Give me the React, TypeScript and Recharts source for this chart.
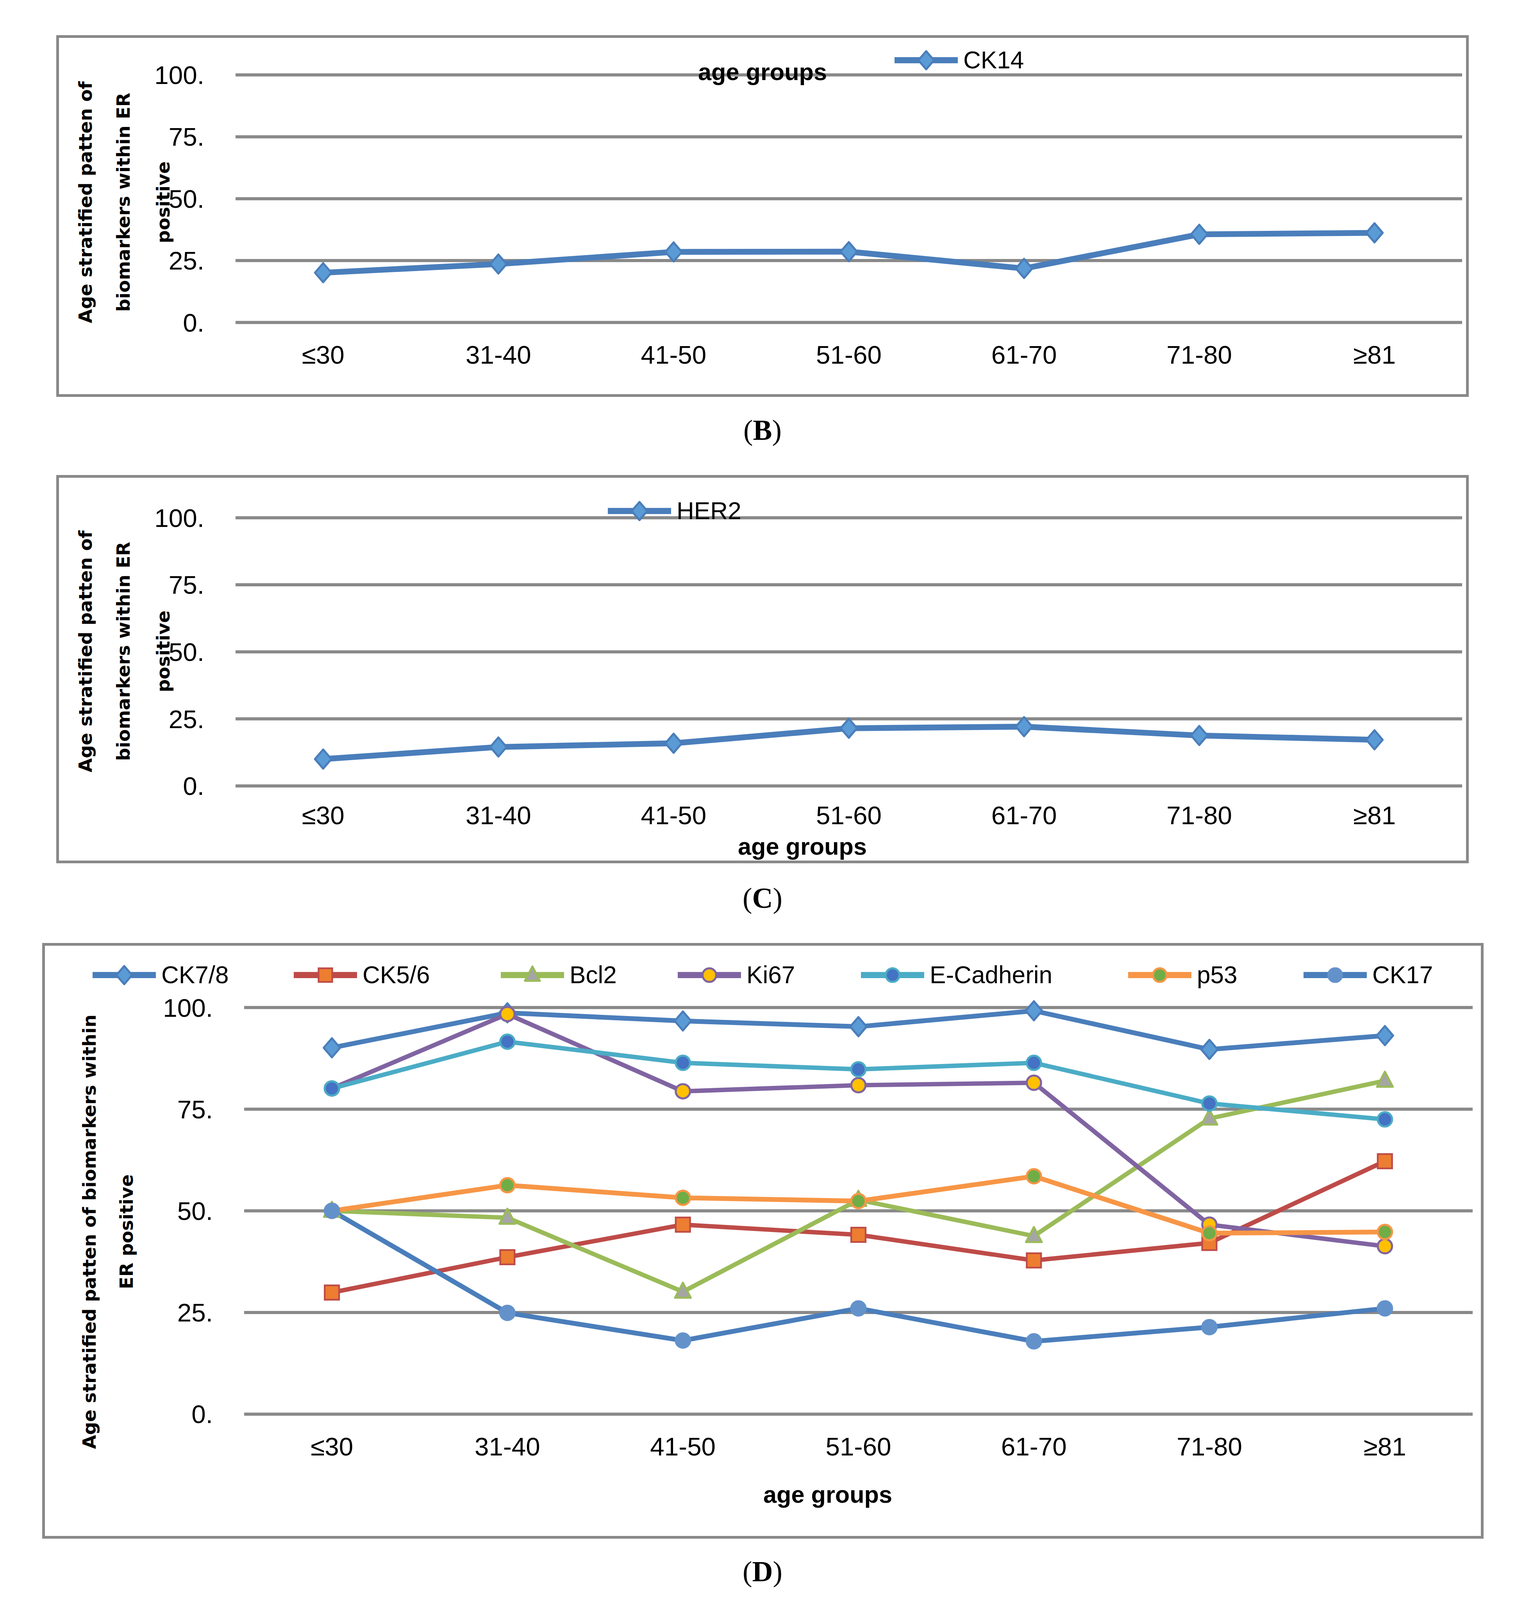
import React from 'react';
import { LineChart, Line, XAxis, YAxis, CartesianGrid, Legend, Label } from 'recharts';

const categories = ['≤30', '31-40', '41-50', '51-60', '61-70', '71-80', '≥81'];
const yTicks = [0, 25, 50, 75, 100];

const ck14 = [20.1, 23.6, 28.5, 28.6, 21.8, 35.6, 36.2];
const her2 = [10.0, 14.5, 15.9, 21.5, 22.1, 18.8, 17.2];

const ck78 = [90.1, 98.7, 96.7, 95.3, 99.2, 89.7, 93.1];
const ck56 = [29.9, 38.6, 46.6, 44.1, 37.8, 42.1, 62.2];
const bcl2 = [50.0, 48.3, 30.1, 52.7, 43.8, 72.7, 82.0];
const ki67 = [80.1, 98.4, 79.4, 80.9, 81.5, 46.6, 41.3];
const ecad = [80.1, 91.6, 86.4, 84.8, 86.4, 76.4, 72.5];
const p53 = [50.0, 56.3, 53.2, 52.4, 58.5, 44.5, 44.8];
const ck17 = [50.0, 24.9, 18.1, 26.0, 17.9, 21.4, 26.0];

const FONT = "'Liberation Sans', Arial, sans-serif";
const TITLE_FONT = "'DejaVu Sans', Verdana, sans-serif";
const GRID = '#898989';

// Fit the 5352px-tall figure into whatever viewport height we actually get.
const VH = typeof window !== 'undefined' && window.innerHeight ? window.innerHeight : 5352;
const SY = Math.min(1, VH / 5352);
const F = Math.sqrt(SY);

type MarkerKind = 'diamond' | 'square' | 'triangle' | 'circle';
interface SeriesDef {
  key: string;
  name: string;
  values: number[];
  color: string;
  marker: MarkerKind;
  mfill: string;
  mstroke: string;
  width: number;
}

const blue = '#4A7EBB';

const seriesB: SeriesDef[] = [
  { key: 'ck14', name: 'CK14', values: ck14, color: blue, marker: 'diamond', mfill: '#5B9BD5', mstroke: blue, width: 17 },
];
const seriesC: SeriesDef[] = [
  { key: 'her2', name: 'HER2', values: her2, color: blue, marker: 'diamond', mfill: '#5B9BD5', mstroke: blue, width: 17 },
];
const seriesD: SeriesDef[] = [
  { key: 'ck78', name: 'CK7/8', values: ck78, color: blue, marker: 'diamond', mfill: '#5B9BD5', mstroke: blue, width: 14 },
  { key: 'ck56', name: 'CK5/6', values: ck56, color: '#BE4B48', marker: 'square', mfill: '#ED7D31', mstroke: '#BE4B48', width: 13 },
  { key: 'bcl2', name: 'Bcl2', values: bcl2, color: '#9BBB59', marker: 'triangle', mfill: '#A5A5A5', mstroke: '#9BBB59', width: 13 },
  { key: 'ki67', name: 'Ki67', values: ki67, color: '#8064A2', marker: 'circle', mfill: '#FFC000', mstroke: '#8064A2', width: 13 },
  { key: 'ecad', name: 'E-Cadherin', values: ecad, color: '#4BACC6', marker: 'circle', mfill: '#4472C4', mstroke: '#4BACC6', width: 13 },
  { key: 'p53', name: 'p53', values: p53, color: '#F79646', marker: 'circle', mfill: '#70AD47', mstroke: '#F79646', width: 14 },
  { key: 'ck17', name: 'CK17', values: ck17, color: blue, marker: 'circle', mfill: '#6392CB', mstroke: '#6392CB', width: 14 },
];

function buildData(series: SeriesDef[]) {
  return categories.map((c, i) => {
    const row: Record<string, any> = { age: c };
    series.forEach((s) => {
      row[s.key] = s.values[i];
    });
    return row;
  });
}

function Marker({ kind, cx, cy, fill, stroke, scale = 1 }: { kind: MarkerKind; cx: number; cy: number; fill: string; stroke: string; scale?: number }) {
  const k = scale * F;
  if (kind === 'diamond') {
    const w = 48 * k;
    const h = 56 * k;
    return (
      <path
        d={`M${cx},${cy - h / 2} L${cx + w / 2},${cy} L${cx},${cy + h / 2} L${cx - w / 2},${cy} Z`}
        fill={fill}
        stroke={stroke}
        strokeWidth={6 * F}
        strokeLinejoin="round"
      />
    );
  }
  if (kind === 'square') {
    const s = 42 * k;
    return <rect x={cx - s / 2} y={cy - s / 2} width={s} height={s} fill={fill} stroke={stroke} strokeWidth={5 * F} />;
  }
  if (kind === 'triangle') {
    const w = 46 * k;
    const h = 44 * k;
    return (
      <path
        d={`M${cx},${cy - h * 0.6} L${cx + w / 2},${cy + h * 0.4} L${cx - w / 2},${cy + h * 0.4} Z`}
        fill={fill}
        stroke={stroke}
        strokeWidth={6 * F}
        strokeLinejoin="round"
      />
    );
  }
  const r = 21 * k;
  return <circle cx={cx} cy={cy} r={r} fill={fill} stroke={stroke} strokeWidth={6 * F} />;
}

function LegendBox({ series, xs }: { series: SeriesDef[]; xs: number[] }) {
  const h = 70 * F;
  return (
    <div style={{ position: 'relative', height: h, width: 3500 }}>
      {series.map((s, i) => (
        <div
          key={s.key}
          style={{ position: 'absolute', left: xs[i], top: 0, height: h, display: 'flex', alignItems: 'center', whiteSpace: 'nowrap' }}
        >
          <svg width={162} height={60 * F} style={{ display: 'block' }}>
            <line x1={0} x2={162} y1={30 * F} y2={30 * F} stroke={s.color} strokeWidth={18 * F} />
            <Marker kind={s.marker} cx={81} cy={30 * F} fill={s.mfill} stroke={s.mstroke} scale={0.95} />
          </svg>
          <span style={{ fontFamily: FONT, fontSize: 71 * F, color: '#000', marginLeft: 14, lineHeight: 1 }}>{s.name}</span>
        </div>
      ))}
    </div>
  );
}

interface PanelProps {
  left: number;
  top: number;
  W: number;
  H: number;
  plotLeft: number;
  plotRight: number;
  plotTop: number;
  plotBottom: number;
  tickOffset: number;
  series: SeriesDef[];
  titleLines: string[];
  titleXs: number[];
  titleCy: number;
  xLabel: { x: number; y: number };
  legendXs: number[];
  legendY: number;
}

function Panel(p: PanelProps) {
  const data = buildData(p.series);
  const B = 7;
  const outerTop = p.top * SY;
  const outerH = p.H * SY;
  const innerLeft = p.left + B;
  const innerTop = outerTop + B;
  const iw = p.W - 2 * B;
  const ih = outerH - 2 * B;
  const yAxisW = 300;
  const xAxisH = 100;
  const mLeft = p.plotLeft - innerLeft - yAxisW;
  const mRight = innerLeft + iw - p.plotRight;
  const mTop = p.plotTop * SY - innerTop;
  const plotBottomChart = p.plotBottom * SY - innerTop;
  const mBottom = ih - plotBottomChart - xAxisH;
  const pad = (p.plotRight - p.plotLeft) / 14;
  const tickFont = 75 * F;
  const tickMargin = p.tickOffset * SY - 0.36 * tickFont;
  const titleCy = p.titleCy * SY - innerTop;
  const legendH = 70 * F;
  const legendTop = p.legendY * SY - innerTop - legendH / 2;
  const legendXs = p.legendXs.map((x) => x - innerLeft);
  const lx = p.xLabel.x - innerLeft;
  const ly = p.xLabel.y * SY - innerTop;

  return (
    <div
      style={{
        position: 'absolute',
        left: p.left,
        top: outerTop,
        width: p.W,
        height: outerH,
        boxSizing: 'border-box',
        border: `${B}px solid ${GRID}`,
        background: '#fff',
        overflow: 'hidden',
      }}
    >
      <LineChart width={iw} height={ih} data={data} margin={{ top: mTop, right: mRight, bottom: mBottom, left: mLeft }}>
        <CartesianGrid vertical={false} stroke={GRID} strokeWidth={8} />
        <XAxis
          dataKey="age"
          axisLine={false}
          tickLine={false}
          tickSize={0}
          tickMargin={tickMargin}
          height={xAxisH}
          interval={0}
          padding={{ left: pad, right: pad }}
          tick={{ fontSize: tickFont, fill: '#000', fontFamily: FONT }}
        >
          <Label
            content={() => (
              <text
                x={lx}
                y={ly}
                textAnchor="middle"
                dominantBaseline="central"
                fontFamily={FONT}
                fontWeight="bold"
                fontSize={70 * F}
                fill="#000"
              >
                age groups
              </text>
            )}
          />
        </XAxis>
        <YAxis
          domain={[0, 100]}
          ticks={yTicks}
          tickFormatter={(v: number) => `${v}.`}
          axisLine={false}
          tickLine={false}
          tickSize={0}
          tickMargin={80}
          width={yAxisW}
          tick={{ fontSize: tickFont, fill: '#000', fontFamily: FONT }}
        >
          <Label
            content={() => (
              <g>
                {p.titleLines.map((t, i) => {
                  const tx = p.titleXs[i] - innerLeft;
                  return (
                    <text
                      key={i}
                      x={tx}
                      y={titleCy}
                      transform={`rotate(-90 ${tx} ${titleCy})`}
                      textAnchor="middle"
                      dominantBaseline="central"
                      fontFamily={TITLE_FONT}
                      fontWeight="bold"
                      fontSize={61 * SY}
                      fill="#000"
                    >
                      {t}
                    </text>
                  );
                })}
              </g>
            )}
          />
        </YAxis>
        <Legend
          layout="horizontal"
          verticalAlign="middle"
          align="center"
          content={() => <LegendBox series={p.series} xs={legendXs} />}
          wrapperStyle={{ position: 'absolute', left: 0, top: legendTop, width: 3500, height: legendH }}
        />
        {p.series.map((s) => (
          <Line
            key={s.key}
            type="linear"
            dataKey={s.key}
            name={s.name}
            stroke={s.color}
            strokeWidth={s.width * F}
            isAnimationActive={false}
            activeDot={false}
            dot={(d: any) => (
              <Marker key={`${s.key}-${d.index}`} kind={s.marker} cx={d.cx} cy={d.cy} fill={s.mfill} stroke={s.mstroke} />
            )}
          />
        ))}
      </LineChart>
    </div>
  );
}

function Caption({ x, y, letter }: { x: number; y: number; letter: string }) {
  const cy = y * SY;
  return (
    <div
      style={{
        position: 'absolute',
        left: x - 200,
        top: cy - 50,
        width: 400,
        height: 100,
        display: 'flex',
        alignItems: 'center',
        justifyContent: 'center',
        fontFamily: "'Liberation Serif', 'Times New Roman', serif",
        fontSize: 84 * F,
        lineHeight: 1,
        color: '#000',
        whiteSpace: 'nowrap',
      }}
    >
      (<b>{letter}</b>)
    </div>
  );
}

export default function App() {
  return (
    <div
      style={{
        position: 'relative',
        width: 3904,
        height: Math.floor(5352 * SY),
        margin: '-8px 0 0 -8px',
        background: '#fff',
        overflow: 'hidden',
      }}
    >
      <Panel
        left={144}
        top={117}
        W={3616}
        H={1210}
        plotLeft={603}
        plotRight={3743}
        plotTop={250}
        plotBottom={1078}
        tickOffset={108}
        series={seriesB}
        titleLines={['Age stratified patten of', 'biomarkers within ER', 'positive']}
        titleXs={[219, 316, 418]}
        titleCy={676}
        xLabel={{ x: 1952, y: 240 }}
        legendXs={[2290]}
        legendY={201}
      />
      <Caption x={1952} y={1440} letter="B" />
      <Panel
        left={144}
        top={1589}
        W={3616}
        H={1299}
        plotLeft={603}
        plotRight={3743}
        plotTop={1732}
        plotBottom={2629}
        tickOffset={98}
        series={seriesC}
        titleLines={['Age stratified patten of', 'biomarkers within ER', 'positive']}
        titleXs={[219, 316, 418]}
        titleCy={2179}
        xLabel={{ x: 2054, y: 2832 }}
        legendXs={[1556]}
        legendY={1709}
      />
      <Caption x={1952} y={3005} letter="C" />
      <Panel
        left={108}
        top={3154}
        W={3690}
        H={1993}
        plotLeft={625}
        plotRight={3770}
        plotTop={3370}
        plotBottom={4730}
        tickOffset={108}
        series={seriesD}
        titleLines={['Age stratified patten of biomarkers within', 'ER positive']}
        titleXs={[229, 324]}
        titleCy={4120}
        xLabel={{ x: 2119, y: 4999 }}
        legendXs={[237, 752, 1282, 1735, 2204, 2888, 3337]}
        legendY={3262}
      />
      <Caption x={1952} y={5258} letter="D" />
    </div>
  );
}
